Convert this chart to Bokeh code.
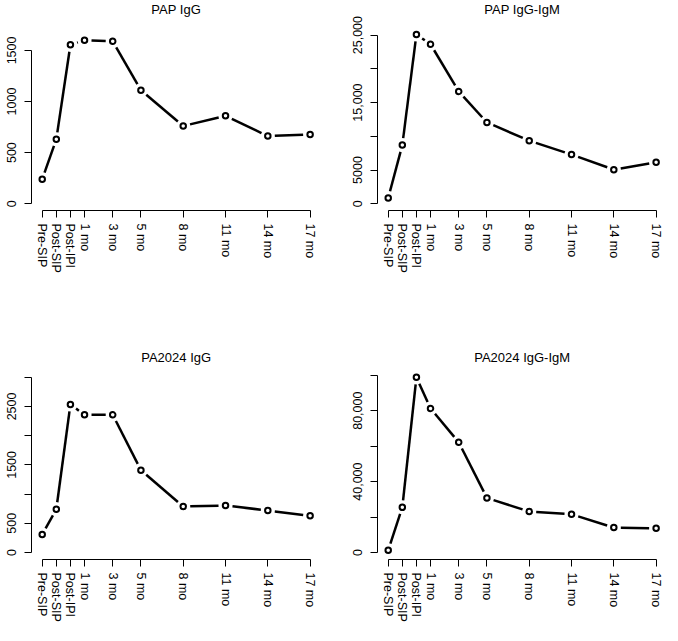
import math
from bokeh.plotting import figure
from bokeh.models import FixedTicker, Range1d, Label
from bokeh.layouts import column, row
from bokeh.embed import file_html
from bokeh.resources import INLINE

# ---- data ----
timepoints = ["Pre-SIP", "Post-SIP", "Post-IPI", "1 mo", "3 mo", "5 mo", "8 mo", "11 mo", "14 mo", "17 mo"]
months = [-2, -1, 0, 1, 3, 5, 8, 11, 14, 17]

pap_igg = [240, 630, 1555, 1600, 1590, 1110, 760, 860, 662, 678]
pap_igg_igm = [840, 8700, 25100, 23650, 16650, 12050, 9350, 7300, 5050, 6150]
pa2024_igg = [308, 742, 2534, 2357, 2357, 1410, 788, 805, 719, 628]
pa2024_igg_igm = [1300, 25500, 98800, 81300, 62200, 30800, 23100, 21600, 14100, 13700]

titles = ["PAP IgG", "PAP IgG-IgM", "PA2024 IgG", "PA2024 IgG-IgM"]
series = [pap_igg, pap_igg_igm, pa2024_igg, pa2024_igg_igm]

y_ticks = [
    [0, 500, 1000, 1500],
    [0, 5000, 10000, 15000, 20000, 25000],
    [0, 500, 1000, 1500, 2000, 2500, 3000],
    [0, 20000, 40000, 60000, 80000, 100000],
]
y_tick_labels = [
    ["0", "500", "1000", "1500"],
    ["0", "5000", "", "15,000", "", "25,000"],
    ["0", "500", "", "1500", "", "2500", ""],
    ["0", "", "40,000", "", "80,000", ""],
]
ylim_top = [1658, 25125, 2979, 98180]

# ---- layout (pixels) ----
PX_PER_MONTH = 14.1
X_START = -2.76
FONT = "Liberation Sans"
GAP = 7.0  # type="b" gap around points, px

# (min_border_left, frame_width, min_border_right)
horiz = [(31, 289, 15), (42, 285, 0)]
# (frame height incl. title area, data-area height, min_border_bottom, title baseline from top)
vert = [(210, 183, 102, 9), (247, 188, 66, 45)]


def gapped(xs, ys, sx, sy, gap):
    x0, y0, x1, y1 = [], [], [], []
    for i in range(len(xs) - 1):
        dx = xs[i + 1] - xs[i]
        dy = ys[i + 1] - ys[i]
        L = math.hypot(dx * sx, dy * sy)
        if L <= 2 * gap:
            continue
        f = gap / L
        x0.append(xs[i] + f * dx)
        y0.append(ys[i] + f * dy)
        x1.append(xs[i + 1] - f * dx)
        y1.append(ys[i + 1] - f * dy)
    return x0, y0, x1, y1


plots = []
for k in range(4):
    r, c = divmod(k, 2)
    mbl, fw, mbr = horiz[c]
    fh, fh_data, mbb, tbase = vert[r]
    x_end = X_START + fw / PX_PER_MONTH
    L = ylim_top[k]
    y0r = -0.04 * L
    sy = fh_data / (1.08 * L)
    y1r = y0r + fh / sy
    p = figure(
        frame_width=fw, frame_height=fh,
        width=mbl + fw + mbr, height=fh + mbb,
        min_border_left=mbl, min_border_right=mbr,
        min_border_top=0, min_border_bottom=mbb,
        x_range=Range1d(X_START, x_end), y_range=Range1d(y0r, y1r),
        output_backend="svg", toolbar_location=None,
    )
    p.outline_line_color = None
    p.xgrid.visible = False
    p.ygrid.visible = False
    p.background_fill_color = "white"
    p.border_fill_color = "white"

    title = Label(
        x=(months[0] + months[-1]) / 2, y=y0r + (fh - tbase) / sy, text=titles[k],
        text_align="center", text_baseline="alphabetic",
        text_font=FONT, text_font_size="13px", text_color="black",
    )
    p.add_layout(title)

    for ax in (p.xaxis[0], p.yaxis[0]):
        ax.axis_line_color = "black"
        ax.axis_line_width = 1
        ax.major_tick_line_color = "black"
        ax.major_tick_in = 0
        ax.major_tick_out = 7
        ax.minor_tick_line_color = None
        ax.major_label_text_font = FONT
        ax.major_label_text_font_size = "12.5px"
        ax.major_label_text_color = "black"
        ax.major_label_orientation = "vertical"

    xa = p.xaxis[0]
    xa.ticker = FixedTicker(ticks=months)
    xa.major_label_overrides = {m: lab for m, lab in zip(months, timepoints)}
    xa.bounds = (months[0], months[-1])
    xa.major_label_standoff = 6

    ya = p.yaxis[0]
    ya.ticker = FixedTicker(ticks=y_ticks[k])
    ya.major_label_overrides = {t: lab for t, lab in zip(y_ticks[k], y_tick_labels[k])}
    ya.bounds = (y_ticks[k][0], y_ticks[k][-1])
    ya.major_label_standoff = 8

    sx0, sy0, sx1, sy1 = gapped(months, series[k], PX_PER_MONTH, sy, GAP)
    p.segment(x0=sx0, y0=sy0, x1=sx1, y1=sy1, line_color="black", line_width=2.5)
    p.scatter(months, series[k], marker="circle", size=5.5, fill_color=None,
              line_color="black", line_width=2)
    plots.append(p)

layout = column(row(plots[0], plots[1]), row(plots[2], plots[3]))
open("out.html", "w").write(file_html(layout, INLINE))
